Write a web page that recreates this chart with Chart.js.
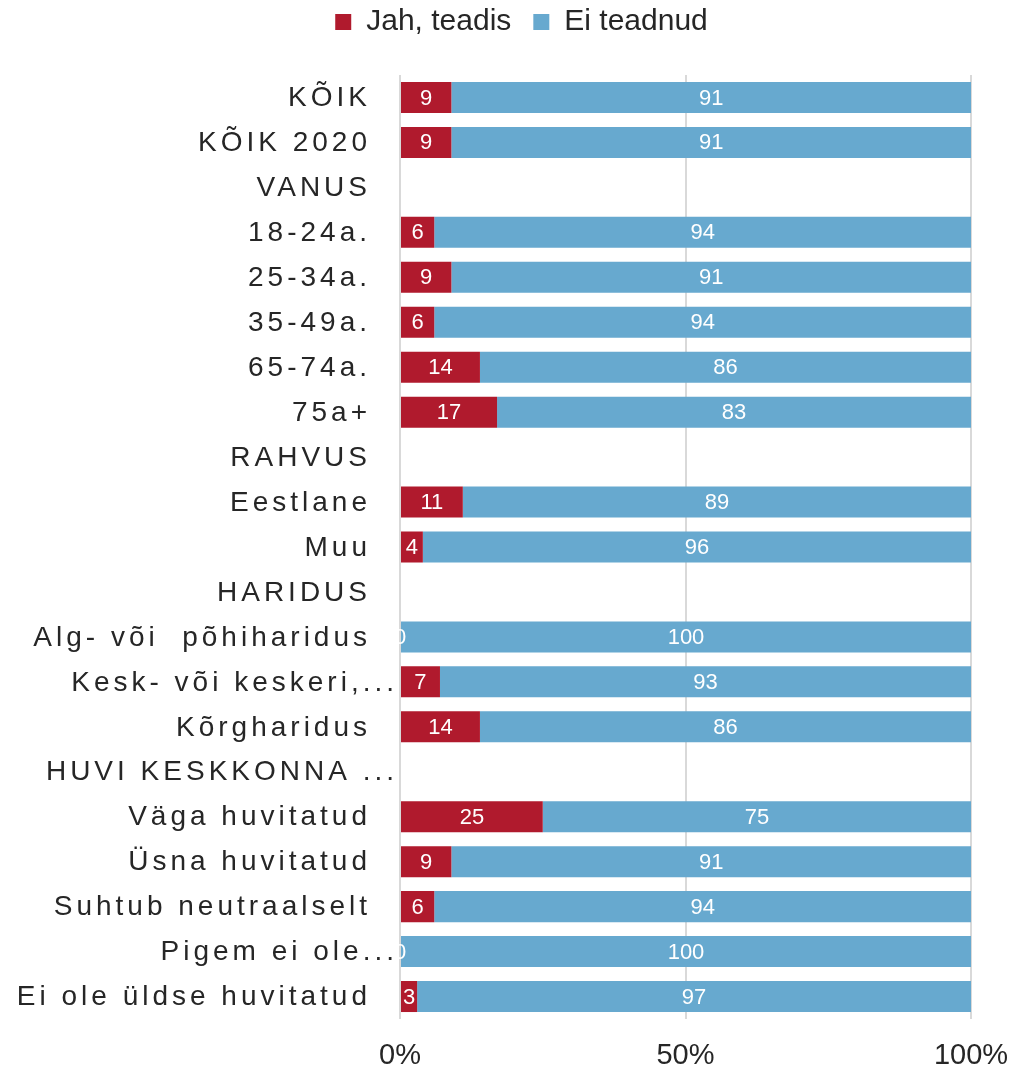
<!DOCTYPE html>
<html>
<head>
<meta charset="utf-8">
<script src="https://cdn.jsdelivr.net/npm/chart.js@4"></script>
<style>
  html, body { margin: 0; padding: 0; background: #fff; }
  #wrap { width: 1015px; height: 1069px; }
</style>
</head>
<body>
<div id="wrap"><canvas id="chart"></canvas></div>
<script>
// categories (empty rows are group headers)
var categories = ['KÕIK', 'KÕIK 2020', 'VANUS', '18-24a.', '25-34a.', '35-49a.', '65-74a.', '75a+',
  'RAHVUS', 'Eestlane', 'Muu', 'HARIDUS', 'Alg- või  põhiharidus', 'Kesk- või keskeri,...', 'Kõrgharidus',
  'HUVI KESKKONNA ...', 'Väga huvitatud', 'Üsna huvitatud', 'Suhtub neutraalselt', 'Pigem ei ole...', 'Ei ole üldse huvitatud'];
var jahTeadis = [9, 9, null, 6, 9, 6, 14, 17, null, 11, 4, null, 0, 7, 14, null, 25, 9, 6, 0, 3];
var eiTeadnud = [91, 91, null, 94, 91, 94, 86, 83, null, 89, 96, null, 100, 93, 86, null, 75, 91, 94, 100, 97];
var xTicks = [0, 50, 100];

var red = '#B01A2D';
var blue = '#67A9CF';
var textColor = '#262626';
var fontFam = '"Liberation Sans", Arial, sans-serif';

// push the plot down below the legend, and nudge the legend right
const legendSpace = {
    id: 'legendSpace',
    beforeInit(chart) {
        const legend = chart.legend;
        const fit = legend.fit;
        legend.fit = function () {
            fit.bind(legend)();
            this.height += 28;
        };
        const draw = legend.draw;
        legend.draw = function () {
            const ctx = chart.ctx;
            ctx.save();
            ctx.translate(36, 0);
            draw.bind(legend)();
            ctx.restore();
        };
    }
};

// y labels drawn with letter spacing like the original
const yLabels = {
    id: 'yLabels',
    afterDraw(chart) {
        const ctx = chart.ctx;
        const y = chart.scales.y;
        ctx.save();
        ctx.font = '28px ' + fontFam;
        ctx.fillStyle = textColor;
        ctx.textAlign = 'right';
        ctx.textBaseline = 'middle';
        ctx.letterSpacing = '4px';
        categories.forEach(function (label, i) {
            const py = y.getPixelForTick(i);
            const right = label.endsWith('...') ? 398 : 371;
            ctx.fillText(label, right, py + 1);
        });
        ctx.restore();
    }
};

const valueLabels = {
    id: 'valueLabels',
    afterDatasetsDraw(chart) {
        const ctx = chart.ctx;
        ctx.save();
        ctx.font = '22px ' + fontFam;
        ctx.fillStyle = '#ffffff';
        ctx.textAlign = 'center';
        ctx.textBaseline = 'middle';
        chart.data.datasets.forEach(function (ds, di) {
            const meta = chart.getDatasetMeta(di);
            meta.data.forEach(function (bar, i) {
                const v = ds.data[i];
                if (v === null || v === undefined) return;
                const cx = (bar.x + bar.base) / 2;
                ctx.fillText(String(v), cx, bar.y + 1);
            });
        });
        ctx.restore();
    }
};

new Chart(document.getElementById('chart'), {
    type: 'bar',
    data: {
        labels: categories,
        datasets: [
            { label: 'Jah, teadis', data: jahTeadis, backgroundColor: red, barPercentage: 0.69, categoryPercentage: 1 },
            { label: 'Ei teadnud', data: eiTeadnud, backgroundColor: blue, barPercentage: 0.69, categoryPercentage: 1 }
        ]
    },
    options: {
        indexAxis: 'y',
        responsive: true,
        maintainAspectRatio: false,
        animation: false,
        layout: { padding: { left: 0, right: 44, top: -15, bottom: 0 } },
        plugins: {
            legend: {
                position: 'top',
                labels: {
                    color: textColor,
                    font: { size: 30, family: fontFam },
                    boxWidth: 16,
                    boxHeight: 16,
                    padding: 22
                }
            },
            tooltip: { enabled: false }
        },
        scales: {
            x: {
                stacked: true,
                min: 0,
                max: 100,
                afterBuildTicks: function (scale) {
                    scale.ticks = xTicks.map(function (v) { return { value: v }; });
                },
                afterFit: function (scale) {
                    scale.height = 50;
                    scale.paddingRight = 0;
                    scale.paddingLeft = 0;
                },
                ticks: {
                    color: textColor,
                    font: { size: 29, family: fontFam },
                    padding: 20,
                    callback: function (v) { return v + '%'; }
                },
                grid: { color: '#d9d9d9', lineWidth: 2, drawTicks: false },
                border: { display: false }
            },
            y: {
                stacked: true,
                ticks: { display: false },
                grid: { display: false },
                border: { display: false },
                afterFit: function (scale) { scale.width = 400; }
            }
        }
    },
    plugins: [legendSpace, yLabels, valueLabels]
});
</script>
</body>
</html>
